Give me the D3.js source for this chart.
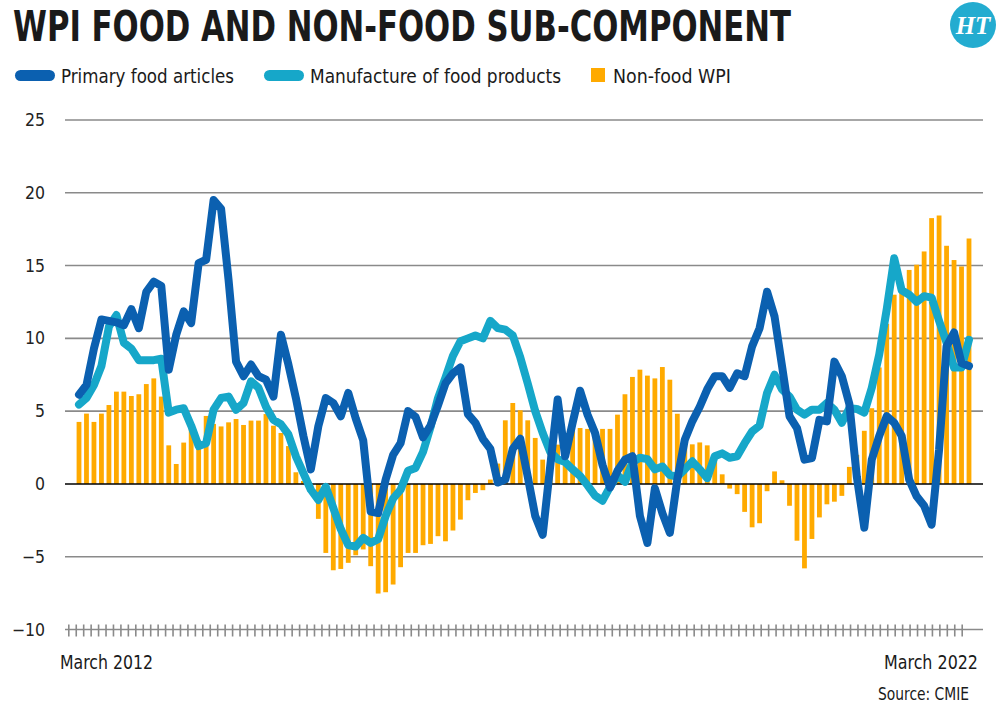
<!DOCTYPE html>
<html>
<head>
<meta charset="utf-8">
<script src="https://cdn.jsdelivr.net/npm/d3@7/dist/d3.min.js"></script>
<style>
  html, body { margin: 0; padding: 0; background: #fff; }
  svg { display: block; }
</style>
</head>
<body>
<svg id="chart" width="1000" height="713"></svg>
<script>
// ---------------- DATA ----------------
const title = "WPI FOOD AND NON-FOOD SUB-COMPONENT";
const seriesNames = ["Primary food articles", "Manufacture of food products", "Non-food WPI"];
const yTicks = [-10, -5, 0, 5, 10, 15, 20, 25];
const startLabel = "March 2012";
const endLabel = "March 2022";
const sourceLabel = "Source: CMIE";

// 120 monthly observations
const months = d3.timeMonth.range(new Date(2012, 3, 1), new Date(2022, 3, 1));
// 121 axis ticks, March 2012 .. March 2022
const tickMonths = d3.timeMonth.range(new Date(2012, 2, 1), new Date(2022, 3, 1));

const nonFood = [
  4.26, 4.83, 4.26, 4.83, 5.42, 6.34, 6.34, 6.04, 6.16, 6.86,
  7.25, 6.0, 2.65, 1.37, 2.84, 3.84, 3.0, 4.67, 4.12, 3.95,
  4.23, 4.46, 4.05, 4.35, 4.35, 4.8, 4.0, 3.5, 2.6, 0.8,
  0.2, -0.4, -2.4, -4.74, -5.93, -5.84, -5.42, -4.9, -4.5, -5.65,
  -7.53, -7.44, -6.91, -5.72, -4.74, -4.74, -4.21, -4.12, -3.59, -3.94,
  -3.2, -2.45, -1.12, -0.62, -0.43, 0.3, 1.4, 4.37, 5.56, 5.06,
  4.37, 3.16, 1.67, 2.4, 2.7, 3.3, 3.86, 3.84, 3.78, 3.8,
  3.78, 3.78, 4.76, 6.16, 7.35, 7.85, 7.44, 7.25, 8.03, 7.16,
  4.82, 3.07, 2.72, 2.85, 2.65, 1.55, 0.66, -0.32, -0.7, -1.92,
  -2.98, -2.7, -0.5, 0.86, 0.25, -1.5, -3.9, -5.8, -3.78, -2.3,
  -1.4, -1.22, -0.82, 1.17, 2.0, 3.65, 5.2, 8.0, 11.0, 13.0,
  13.4, 14.7, 15.06, 15.97, 18.26, 18.44, 16.36, 15.38, 14.94, 16.86
];

const primaryFood = [
  6.13, 6.8, 9.3, 11.3, 11.2, 11.1, 10.9, 12.0, 10.7, 13.2,
  13.9, 13.6, 7.85, 10.25, 11.85, 11.05, 15.17, 15.4, 19.5, 18.9,
  14.0, 8.4, 7.4, 8.2, 7.4, 7.16, 6.0, 10.25, 8.2, 5.9,
  3.3, 1.0, 3.96, 5.9, 5.56, 4.65, 6.25, 4.5, 3.0, -1.9,
  -2.0, 0.3, 2.0, 2.8, 5.0, 4.6, 3.2, 4.0, 5.4, 6.9,
  7.6, 8.0, 4.8, 4.2, 3.1, 2.4, 0.1, 0.3, 2.4, 3.1,
  0.5, -2.2, -3.5, 1.2, 5.8, 1.9, 4.2, 6.4, 4.75, 3.5,
  1.3, -0.25, 0.9, 1.67, 1.9, -2.2, -4.05, -0.3, -2.0, -3.36,
  0.3, 3.04, 4.3, 5.3, 6.5, 7.4, 7.4, 6.6, 7.6, 7.4,
  9.45, 10.7, 13.2, 11.5, 8.1, 4.65, 3.84, 1.67, 1.78, 4.4,
  4.3, 8.4, 7.4, 5.5, 0.5, -3.0, 1.67, 3.3, 4.65, 4.2,
  3.3, 0.3, -0.85, -1.5, -2.8, 2.36, 9.45, 10.4, 8.3, 8.1
];

const manufFood = [
  5.45, 5.9, 6.8, 8.1, 10.8, 11.6, 9.7, 9.3, 8.5, 8.5,
  8.5, 8.6, 4.9, 5.1, 5.2, 4.0, 2.6, 2.8, 5.1, 5.9,
  6.0, 5.1, 5.56, 7.05, 6.6, 5.3, 4.4, 4.1, 3.4, 1.9,
  0.75, -0.4, -1.1, -0.2, -1.65, -3.1, -4.2, -4.3, -3.7, -4.05,
  -3.8, -2.2, -1.0, -0.4, 0.9, 1.1, 2.2, 3.9, 5.9, 7.3,
  8.8, 9.8, 10.0, 10.2, 10.0, 11.2, 10.7, 10.6, 10.2, 8.7,
  6.9, 5.0, 3.5, 2.2, 1.7, 1.5, 1.0, 0.55, -0.1, -0.8,
  -1.15, -0.2, 0.6, 0.15, 1.5, 1.8, 1.7, 1.0, 1.2, 0.6,
  0.5, 1.0, 1.55, 1.0, 0.4, 1.9, 2.1, 1.8, 1.9, 2.8,
  3.6, 4.0, 6.25, 7.5, 6.5, 6.0, 5.1, 4.76, 5.1, 5.1,
  5.56, 5.1, 4.2, 5.2, 5.15, 4.9, 6.6, 8.9, 12.0, 15.5,
  13.3, 13.0, 12.5, 12.9, 12.8, 11.2, 9.7, 8.0, 8.0, 9.9
];

// ---------------- STYLE ----------------
const colPrimary = "#0b60b0";
const colManuf = "#16a7c9";
const colNonFood = "#ffaa00";
const condensed = "'Liberation Sans Narrow', 'DejaVu Sans Condensed', 'Roboto Condensed', 'Liberation Sans', 'Roboto', sans-serif";

const svg = d3.select("#chart");

// ---------------- SCALES ----------------
const x = d3.scalePoint().domain(months.map((d, i) => i)).range([79, 969]);
const xTick = d3.scalePoint().domain(tickMonths.map((d, i) => i)).range([68.3, 961.7]);
const y = d3.scaleLinear().domain([-10, 25]).range([629.5, 120]);
const barW = 4.8;

// ---------------- TITLE ----------------
const titleEl = svg.append("text")
  .attr("font-family", condensed)
  .attr("font-stretch", "condensed")
  .attr("font-weight", 700)
  .attr("font-size", 43)
  .attr("fill", "#1a1a1a")
  .text(title);
const tw = titleEl.node().getComputedTextLength();
titleEl.attr("transform", `translate(13,41) scale(${778 / tw},1)`);

// HT logo
const logo = svg.append("g").attr("transform", "translate(973,25)");
logo.append("circle").attr("r", 23).attr("fill", "#23acd0");
logo.append("text")
  .attr("text-anchor", "middle").attr("y", 9)
  .attr("font-family", "'Liberation Serif', 'DejaVu Serif', serif")
  .attr("font-style", "italic").attr("font-weight", 700)
  .attr("font-size", 25).attr("fill", "#fff")
  .text("HT");

// ---------------- LEGEND ----------------
const legend = svg.append("g");
legend.append("rect").attr("x", 15).attr("y", 70).attr("width", 40).attr("height", 11).attr("rx", 5.5).attr("fill", colPrimary);
legend.append("rect").attr("x", 264).attr("y", 70).attr("width", 40).attr("height", 11).attr("rx", 5.5).attr("fill", colManuf);
legend.append("rect").attr("x", 591).attr("y", 68).attr("width", 14).attr("height", 14).attr("fill", colNonFood);
const legTexts = [
  { t: seriesNames[0], x: 61, w: 173 },
  { t: seriesNames[1], x: 310, w: 251 },
  { t: seriesNames[2], x: 613, w: 118 }
];
legend.selectAll("text.leg").data(legTexts).join("text")
  .attr("class", "leg")
  .attr("x", d => d.x).attr("y", 83)
  .attr("font-family", condensed).attr("font-stretch", "condensed")
  .attr("font-size", 20).attr("fill", "#1a1a1a")
  .attr("textLength", d => d.w).attr("lengthAdjust", "spacingAndGlyphs")
  .text(d => d.t);

// ---------------- GRID + Y AXIS ----------------
const grid = svg.append("g");
grid.selectAll("line").data(yTicks.filter(v => v > -10)).join("line")
  .attr("x1", 65).attr("x2", 983)
  .attr("y1", d => y(d)).attr("y2", d => y(d))
  .attr("stroke", d => d === 0 ? "none" : "#8a8a8a")
  .attr("stroke-width", 1.6);

const yAxis = d3.axisLeft(y).tickValues(yTicks).tickSize(0).tickPadding(0);
const yg = svg.append("g").attr("transform", "translate(45,0)").call(yAxis);
yg.select(".domain").remove();
yg.selectAll("text")
  .attr("font-family", condensed).attr("font-stretch", "condensed")
  .attr("font-size", 17.5).attr("fill", "#222");

// ---------------- BARS ----------------
svg.append("g").selectAll("rect").data(nonFood).join("rect")
  .attr("x", (d, i) => x(i) - barW / 2)
  .attr("width", barW)
  .attr("y", d => y(Math.max(0, d)))
  .attr("height", d => Math.abs(y(d) - y(0)))
  .attr("fill", colNonFood);

// zero line
svg.append("line")
  .attr("x1", 65).attr("x2", 983)
  .attr("y1", y(0)).attr("y2", y(0))
  .attr("stroke", "#000").attr("stroke-width", 1.6);

// ---------------- LINES ----------------
const line = d3.line().x((d, i) => x(i)).y(d => y(d)).curve(d3.curveLinear);
svg.append("path").datum(manufFood)
  .attr("d", line).attr("fill", "none")
  .attr("stroke", colManuf).attr("stroke-width", 8)
  .attr("stroke-linejoin", "round").attr("stroke-linecap", "round");
svg.append("path").datum(primaryFood)
  .attr("d", line).attr("fill", "none")
  .attr("stroke", colPrimary).attr("stroke-width", 8)
  .attr("stroke-linejoin", "round").attr("stroke-linecap", "round");

// ---------------- X AXIS ----------------
svg.append("line")
  .attr("x1", 65).attr("x2", 983)
  .attr("y1", y(-10)).attr("y2", y(-10))
  .attr("stroke", "#8a8a8a").attr("stroke-width", 1.6);
const xAxis = d3.axisBottom(xTick).tickSize(12).tickFormat("");
const xg = svg.append("g").attr("transform", `translate(0,${y(-10) - 5})`).call(xAxis);
xg.select(".domain").remove();
xg.selectAll(".tick line").attr("stroke", "#8a8a8a").attr("stroke-width", 1.6);

svg.append("text")
  .attr("x", 60).attr("y", 669)
  .attr("font-family", condensed).attr("font-stretch", "condensed")
  .attr("font-size", 20).attr("fill", "#1a1a1a")
  .attr("textLength", 93).attr("lengthAdjust", "spacingAndGlyphs")
  .text(startLabel);
svg.append("text")
  .attr("x", 884).attr("y", 669)
  .attr("font-family", condensed).attr("font-stretch", "condensed")
  .attr("font-size", 20).attr("fill", "#1a1a1a")
  .attr("textLength", 94).attr("lengthAdjust", "spacingAndGlyphs")
  .text(endLabel);
svg.append("text")
  .attr("x", 878).attr("y", 700)
  .attr("font-family", condensed).attr("font-stretch", "condensed")
  .attr("font-size", 17).attr("fill", "#1a1a1a")
  .attr("textLength", 91).attr("lengthAdjust", "spacingAndGlyphs")
  .text(sourceLabel);
</script>
</body>
</html>
